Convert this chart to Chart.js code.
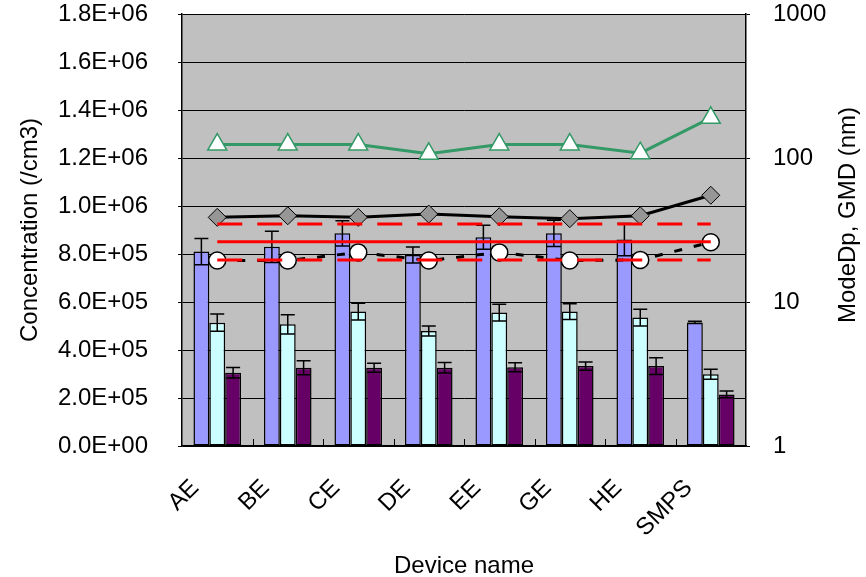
<!DOCTYPE html>
<html><head><meta charset="utf-8">
<script src="https://cdn.jsdelivr.net/npm/chart.js@4/dist/chart.umd.min.js"></script>
<style>html,body{margin:0;padding:0;background:#fff}#wrap{width:866px;height:577px}</style>
</head><body><div id="wrap"><canvas id="c" width="866" height="577"></canvas></div>
<script>
// ---- data ----
const categories = ['AE', 'BE', 'CE', 'DE', 'EE', 'GE', 'HE', 'SMPS'];
const leftTickValues = [0, 200000, 400000, 600000, 800000, 1000000, 1200000, 1400000, 1600000, 1800000];
const rightTickValues = [1, 10, 100, 1000];
const concA = [810000, 830000, 886000, 796000, 870000, 886000, 860000, 515000];
const concAErr = [55000, 65000, 53000, 33000, 50000, 55000, 67000, 5000];
const concB = [514000, 507000, 560000, 479000, 556000, 560000, 535000, 299000];
const concBErr = [36000, 40000, 35000, 21000, 35000, 33000, 35000, 21000];
const concC = [305000, 326000, 326000, 326000, 328000, 333000, 333000, 215000];
const concCErr = [22000, 29000, 19000, 22000, 19000, 17000, 35000, 14000];
const modeDpTri = [124, 124, 124, 107, 124, 124, 108, 190];
const gmdDiamond = [38.7, 39.7, 38.7, 40.8, 39.1, 37.9, 39.7, 55.1];
const gmdCircle = [19.4, 19.4, 22.1, 19.4, 22.1, 19.4, 19.6, 26.0];
const refMid = [26.2, 26.2, 26.2, 26.2, 26.2, 26.2, 26.2, 26.2];
const refUpper = [34.8, 34.8, 34.8, 34.8, 34.8, 34.8, 34.8, 34.8];
const refLower = [19.6, 19.6, 19.6, 19.6, 19.6, 19.6, 19.6, 19.6];

const FONT = '"Liberation Sans", Arial, sans-serif';
const FS = 24;
Chart.defaults.font.family = FONT;
Chart.defaults.font.size = FS;
Chart.defaults.color = '#000';

function fmtExp(v) {
  if (v === 0) return '0.0E+00';
  const e = Math.floor(Math.log10(v) + 1e-9);
  const m = v / Math.pow(10, e);
  return m.toFixed(1) + 'E' + (e >= 0 ? '+' : '-') + String(Math.abs(e)).padStart(2, '0');
}

const bgPlugin = {
  id: 'bg',
  beforeDraw(chart) {
    const a = chart.chartArea, ctx = chart.ctx;
    ctx.save(); ctx.fillStyle = '#c0c0c0';
    ctx.fillRect(a.left, a.top, a.right - a.left, a.bottom - a.top);
    ctx.restore();
  },
  beforeDatasetsDraw(chart) {
    const x = chart.scales.x, a = chart.chartArea, ctx = chart.ctx;
    ctx.save(); ctx.strokeStyle = '#000'; ctx.lineWidth = 1;
    for (let i = 0; i < categories.length - 1; i++) {
      const px = Math.round((x.getPixelForValue(i) + x.getPixelForValue(i + 1)) / 2) + 0.5;
      ctx.beginPath(); ctx.moveTo(px, a.bottom); ctx.lineTo(px, a.bottom - 7); ctx.stroke();
    }
    ctx.restore();
  }
};

const errPlugin = {
  id: 'errbars',
  afterDatasetDraw(chart, args) {
    const ds = chart.data.datasets[args.index];
    if (!ds.errors) return;
    const meta = args.meta, y = chart.scales.y, ctx = chart.ctx;
    ctx.save(); ctx.strokeStyle = '#000'; ctx.lineWidth = 1.5;
    meta.data.forEach((el, i) => {
      const v = ds.data[i], e = ds.errors[i];
      const t = y.getPixelForValue(v + e), b = y.getPixelForValue(v - e);
      const hw = 7;
      ctx.beginPath();
      ctx.moveTo(el.x, t); ctx.lineTo(el.x, b);
      ctx.moveTo(el.x - hw, t); ctx.lineTo(el.x + hw, t);
      ctx.moveTo(el.x - hw, b); ctx.lineTo(el.x + hw, b);
      ctx.stroke();
    });
    ctx.restore();
  }
};

const rightTitlePlugin = {
  id: 'rtitle',
  afterDraw(chart) {
    const ctx = chart.ctx, a = chart.chartArea;
    ctx.save();
    ctx.font = FS + 'px ' + FONT; ctx.fillStyle = '#000';
    ctx.textAlign = 'center'; ctx.textBaseline = 'middle';
    ctx.translate(848, (a.top + a.bottom) / 2 - 15);
    ctx.rotate(-Math.PI / 2);
    ctx.fillText('ModeDp, GMD (nm)', 0, 0);
    ctx.restore();
  }
};

const barDs = (data, errs, color) => ({
  type: 'bar', data, errors: errs, backgroundColor: color, borderColor: '#000',
  borderWidth: 1.5, borderSkipped: false, yAxisID: 'y', order: 10,
  categoryPercentage: 0.675, barPercentage: 1.0
});

new Chart(document.getElementById('c'), {
  data: {
    labels: categories,
    datasets: [
      barDs(concA, concAErr, '#9999ff'),
      barDs(concB, concBErr, '#ccffff'),
      barDs(concC, concCErr, '#660066'),
      { type: 'line', data: modeDpTri, yAxisID: 'y2', borderColor: '#339966', borderWidth: 3,
        pointStyle: 'triangle', pointRadius: 11, pointBackgroundColor: '#fff', pointBorderColor: '#339966',
        pointBorderWidth: 1.5, tension: 0, order: 5 },
      { type: 'line', data: gmdDiamond, yAxisID: 'y2', borderColor: '#000', borderWidth: 3,
        pointStyle: 'rectRot', pointRadius: 9, pointBackgroundColor: '#969696', pointBorderColor: '#000',
        pointBorderWidth: 1, tension: 0, order: 4 },
      { type: 'line', data: gmdCircle, yAxisID: 'y2', borderColor: '#000', borderWidth: 3, borderDash: [8, 12],
        pointStyle: 'circle', pointRadius: 8.5, pointBackgroundColor: '#fff', pointBorderColor: '#000',
        pointBorderWidth: 1.5, tension: 0, order: 3 },
      { type: 'line', data: refMid, yAxisID: 'y2', borderColor: '#ff0000', borderWidth: 3,
        pointRadius: 0, tension: 0, order: 0 },
      { type: 'line', data: refUpper, yAxisID: 'y2', borderColor: '#ff0000', borderWidth: 3, borderDash: [25, 15],
        pointRadius: 0, tension: 0, order: 0 },
      { type: 'line', data: refLower, yAxisID: 'y2', borderColor: '#ff0000', borderWidth: 3, borderDash: [25, 15],
        pointRadius: 0, tension: 0, order: 0 }
    ]
  },
  options: {
    responsive: false, devicePixelRatio: 1, animation: false,
    layout: { padding: { top: 14, left: 0, right: 0, bottom: 0 } },
    plugins: { legend: { display: false }, tooltip: { enabled: false } },
    scales: {
      x: {
        type: 'category', offset: true,
        grid: { display: false },
        border: { display: true, color: '#000', width: 1.5 },
        ticks: { minRotation: 45, maxRotation: 45, labelOffset: -22, padding: 20 },
        title: { display: true, text: 'Device name', padding: { top: 0, bottom: -4 } },
        afterFit(s) { s.height = 131; }
      },
      y: {
        position: 'left', min: 0, max: 1800000,
        afterBuildTicks(s) { s.ticks = leftTickValues.map(v => ({ value: v })); },
        ticks: { callback: v => fmtExp(v), padding: 30 },
        grid: { color: '#000', lineWidth: 1, tickLength: 4 },
        border: { display: true, color: '#000', width: 1.5 },
        title: { display: true, text: 'Concentration (/cm3)', padding: { top: 16, bottom: 0 } },
        afterFit(s) { s.width = 182; s.paddingTop = 10; s.paddingBottom = 10; }
      },
      y2: {
        type: 'logarithmic', position: 'right', min: 1, max: 1000,
        afterBuildTicks(s) { s.ticks = rightTickValues.map(v => ({ value: v })); },
        ticks: { callback: v => String(v), padding: 23 },
        grid: { drawOnChartArea: false, color: '#000', tickLength: 4 },
        border: { display: true, color: '#000', width: 1.5 },
        afterFit(s) { s.width = 120; s.paddingTop = 10; s.paddingBottom = 10; }
      }
    }
  },
  plugins: [bgPlugin, errPlugin, rightTitlePlugin]
});
</script></body></html>
